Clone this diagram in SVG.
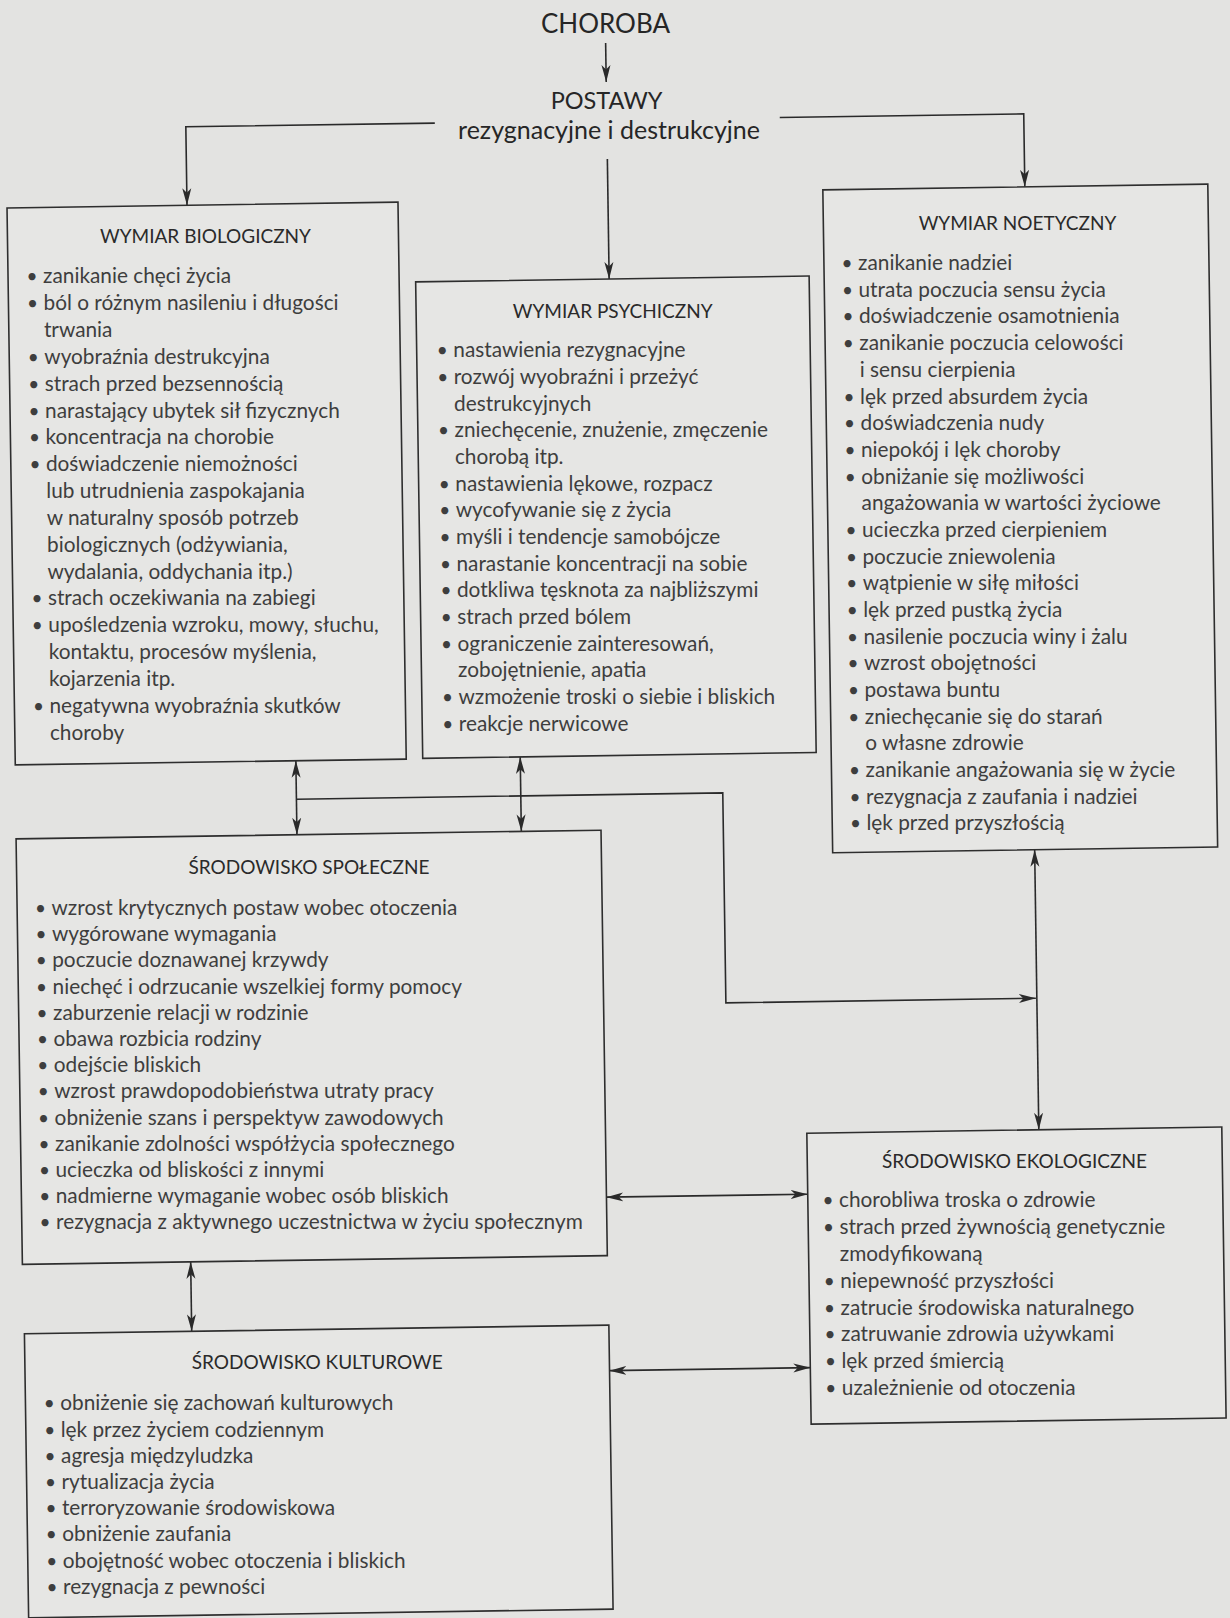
<svg xmlns="http://www.w3.org/2000/svg" width="1230" height="1618" viewBox="0 0 1230 1618">
<defs>
<style>
.bg{fill:#e3e3e1}
.box{fill:#e6e6e4;stroke:#2e2e2e;stroke-width:1.6}
.ln{fill:none;stroke:#2a2a2a;stroke-width:1.6}
text{font-family:Lato,'Liberation Sans',sans-serif}
.hd{fill:#262626;text-anchor:middle}
.tt{font-size:19px;fill:#2a2a2a;text-anchor:middle}
.it{font-size:20.8px;fill:#3e3e3e}
.bu{font-size:19px;fill:#3e3e3e;text-anchor:middle}
</style>
<marker id="ah" viewBox="0 0 17 10" refX="17" refY="5" markerWidth="17" markerHeight="10" markerUnits="userSpaceOnUse" orient="auto-start-reverse"><path d="M0,0.5 L17,5 L0,9.5 L4.5,5 Z" fill="#2a2a2a"/></marker>
</defs>
<rect class="bg" x="0" y="0" width="1230" height="1618"/>
<g id="header">
<text class="hd" x="605.5" y="33" font-size="26">CHOROBA</text>
<text class="hd" x="606.6" y="109" font-size="23.5">POSTAWY</text>
<text class="hd" x="609" y="139" font-size="25">rezygnacyjne i destrukcyjne</text>
</g>
<g id="connectors" transform="rotate(-0.85 615 809)">
<path class="ln" d="M617,43 V82" marker-end="url(#ah)"/>
<path class="ln" d="M617,159 V279" marker-end="url(#ah)"/>
<path class="ln" d="M445,120.5 H196 V199" marker-end="url(#ah)"/>
<path class="ln" d="M790,120 H1034 V193" marker-end="url(#ah)"/>
<path class="ln" d="M296.6,756 V830" marker-start="url(#ah)" marker-end="url(#ah)"/>
<path class="ln" d="M521,755.5 V830" marker-start="url(#ah)" marker-end="url(#ah)"/>
<path class="ln" d="M296.6,794.5 H723 V1004.5 H1033" marker-end="url(#ah)"/>
<path class="ln" d="M1034,856 V1136" marker-start="url(#ah)" marker-end="url(#ah)"/>
<path class="ln" d="M600.5,1197 H802" marker-start="url(#ah)" marker-end="url(#ah)"/>
<path class="ln" d="M601,1370.5 H802" marker-start="url(#ah)" marker-end="url(#ah)"/>
<path class="ln" d="M184,1255.5 V1325" marker-start="url(#ah)" marker-end="url(#ah)"/>
</g>
<g id="wymiar-biologiczny">
<rect class="box" x="16" y="199" width="391" height="557" transform="rotate(-0.85 615 809)"/>
<text class="tt" x="205.5" y="243">WYMIAR BIOLOGICZNY</text>
<text class="bu"><tspan x="32.1" y="283.4">•</tspan><tspan x="32.5" y="310.2">•</tspan><tspan x="33.3" y="363.9">•</tspan><tspan x="33.7" y="390.7">•</tspan><tspan x="34.1" y="417.6">•</tspan><tspan x="34.5" y="444.4">•</tspan><tspan x="34.9" y="471.2">•</tspan><tspan x="36.9" y="605.4">•</tspan><tspan x="37.3" y="632.2">•</tspan><tspan x="38.5" y="712.7">•</tspan></text>
<text class="it">
<tspan x="43.1" y="283.4">zanikanie chęci życia</tspan>
<tspan x="43.5" y="310.2">ból o różnym nasileniu i długości</tspan>
<tspan x="43.9" y="337.1">trwania</tspan>
<tspan x="44.3" y="363.9">wyobraźnia destrukcyjna</tspan>
<tspan x="44.7" y="390.7">strach przed bezsennością</tspan>
<tspan x="45.1" y="417.6">narastający ubytek sił fizycznych</tspan>
<tspan x="45.5" y="444.4">koncentracja na chorobie</tspan>
<tspan x="45.9" y="471.2">doświadczenie niemożności</tspan>
<tspan x="46.3" y="498">lub utrudnienia zaspokajania</tspan>
<tspan x="46.7" y="524.9">w naturalny sposób potrzeb</tspan>
<tspan x="47.1" y="551.7">biologicznych (odżywiania,</tspan>
<tspan x="47.5" y="578.5">wydalania, oddychania itp.)</tspan>
<tspan x="47.9" y="605.4">strach oczekiwania na zabiegi</tspan>
<tspan x="48.3" y="632.2">upośledzenia wzroku, mowy, słuchu,</tspan>
<tspan x="48.7" y="659">kontaktu, procesów myślenia,</tspan>
<tspan x="49.1" y="685.8">kojarzenia itp.</tspan>
<tspan x="49.5" y="712.7">negatywna wyobraźnia skutków</tspan>
<tspan x="49.9" y="739.5">choroby</tspan>
</text>
</g>
<g id="wymiar-psychiczny">
<rect class="box" x="423.5" y="279" width="393.5" height="476.5" transform="rotate(-0.85 615 809)"/>
<text class="tt" x="612.7" y="317.9">WYMIAR PSYCHICZNY</text>
<text class="bu"><tspan x="442.3" y="357.4">•</tspan><tspan x="442.7" y="384.1">•</tspan><tspan x="443.5" y="437.4">•</tspan><tspan x="444.3" y="490.7">•</tspan><tspan x="444.7" y="517.3">•</tspan><tspan x="445.1" y="544">•</tspan><tspan x="445.5" y="570.6">•</tspan><tspan x="445.9" y="597.3">•</tspan><tspan x="446.2" y="623.9">•</tspan><tspan x="446.6" y="650.6">•</tspan><tspan x="447.4" y="703.9">•</tspan><tspan x="447.8" y="730.5">•</tspan></text>
<text class="it">
<tspan x="453.3" y="357.4">nastawienia rezygnacyjne</tspan>
<tspan x="453.7" y="384.1">rozwój wyobraźni i przeżyć</tspan>
<tspan x="454.1" y="410.7">destrukcyjnych</tspan>
<tspan x="454.5" y="437.4">zniechęcenie, znużenie, zmęczenie</tspan>
<tspan x="454.9" y="464">chorobą itp.</tspan>
<tspan x="455.3" y="490.7">nastawienia lękowe, rozpacz</tspan>
<tspan x="455.7" y="517.3">wycofywanie się z życia</tspan>
<tspan x="456.1" y="544">myśli i tendencje samobójcze</tspan>
<tspan x="456.5" y="570.6">narastanie koncentracji na sobie</tspan>
<tspan x="456.9" y="597.3">dotkliwa tęsknota za najbliższymi</tspan>
<tspan x="457.2" y="623.9">strach przed bólem</tspan>
<tspan x="457.6" y="650.6">ograniczenie zainteresowań,</tspan>
<tspan x="458" y="677.2">zobojętnienie, apatia</tspan>
<tspan x="458.4" y="703.9">wzmożenie troski o siebie i bliskich</tspan>
<tspan x="458.8" y="730.5">reakcje nerwicowe</tspan>
</text>
</g>
<g id="wymiar-noetyczny">
<rect class="box" x="832" y="193" width="385" height="663" transform="rotate(-0.85 615 809)"/>
<text class="tt" x="1017.5" y="229.9">WYMIAR NOETYCZNY</text>
<text class="bu"><tspan x="847.1" y="270.1">•</tspan><tspan x="847.5" y="296.8">•</tspan><tspan x="847.9" y="323.4">•</tspan><tspan x="848.3" y="350.1">•</tspan><tspan x="849.1" y="403.5">•</tspan><tspan x="849.5" y="430.1">•</tspan><tspan x="849.9" y="456.8">•</tspan><tspan x="850.3" y="483.5">•</tspan><tspan x="851" y="536.8">•</tspan><tspan x="851.4" y="563.5">•</tspan><tspan x="851.8" y="590.1">•</tspan><tspan x="852.2" y="616.8">•</tspan><tspan x="852.6" y="643.5">•</tspan><tspan x="853" y="670.2">•</tspan><tspan x="853.4" y="696.8">•</tspan><tspan x="853.8" y="723.5">•</tspan><tspan x="854.6" y="776.8">•</tspan><tspan x="855" y="803.5">•</tspan><tspan x="855.4" y="830.2">•</tspan></text>
<text class="it">
<tspan x="858.1" y="270.1">zanikanie nadziei</tspan>
<tspan x="858.5" y="296.8">utrata poczucia sensu życia</tspan>
<tspan x="858.9" y="323.4">doświadczenie osamotnienia</tspan>
<tspan x="859.3" y="350.1">zanikanie poczucia celowości</tspan>
<tspan x="859.7" y="376.8">i sensu cierpienia</tspan>
<tspan x="860.1" y="403.5">lęk przed absurdem życia</tspan>
<tspan x="860.5" y="430.1">doświadczenia nudy</tspan>
<tspan x="860.9" y="456.8">niepokój i lęk choroby</tspan>
<tspan x="861.3" y="483.5">obniżanie się możliwości</tspan>
<tspan x="861.6" y="510.1">angażowania w wartości życiowe</tspan>
<tspan x="862" y="536.8">ucieczka przed cierpieniem</tspan>
<tspan x="862.4" y="563.5">poczucie zniewolenia</tspan>
<tspan x="862.8" y="590.1">wątpienie w siłę miłości</tspan>
<tspan x="863.2" y="616.8">lęk przed pustką życia</tspan>
<tspan x="863.6" y="643.5">nasilenie poczucia winy i żalu</tspan>
<tspan x="864" y="670.2">wzrost obojętności</tspan>
<tspan x="864.4" y="696.8">postawa buntu</tspan>
<tspan x="864.8" y="723.5">zniechęcanie się do starań</tspan>
<tspan x="865.2" y="750.2">o własne zdrowie</tspan>
<tspan x="865.6" y="776.8">zanikanie angażowania się w życie</tspan>
<tspan x="866" y="803.5">rezygnacja z zaufania i nadziei</tspan>
<tspan x="866.4" y="830.2">lęk przed przyszłością</tspan>
</text>
</g>
<g id="srodowisko-spoleczne">
<rect class="box" x="15.7" y="830" width="585" height="425.5" transform="rotate(-0.85 615 809)"/>
<text class="tt" x="308.9" y="873.6">ŚRODOWISKO SPOŁECZNE</text>
<text class="bu"><tspan x="40.5" y="914.9">•</tspan><tspan x="40.9" y="941.1">•</tspan><tspan x="41.2" y="967.3">•</tspan><tspan x="41.6" y="993.5">•</tspan><tspan x="42" y="1019.7">•</tspan><tspan x="42.4" y="1045.9">•</tspan><tspan x="42.8" y="1072.1">•</tspan><tspan x="43.2" y="1098.3">•</tspan><tspan x="43.6" y="1124.5">•</tspan><tspan x="44" y="1150.7">•</tspan><tspan x="44.4" y="1176.9">•</tspan><tspan x="44.7" y="1203.1">•</tspan><tspan x="45.1" y="1229.3">•</tspan></text>
<text class="it">
<tspan x="51.5" y="914.9">wzrost krytycznych postaw wobec otoczenia</tspan>
<tspan x="51.9" y="941.1">wygórowane wymagania</tspan>
<tspan x="52.2" y="967.3">poczucie doznawanej krzywdy</tspan>
<tspan x="52.6" y="993.5">niechęć i odrzucanie wszelkiej formy pomocy</tspan>
<tspan x="53" y="1019.7">zaburzenie relacji w rodzinie</tspan>
<tspan x="53.4" y="1045.9">obawa rozbicia rodziny</tspan>
<tspan x="53.8" y="1072.1">odejście bliskich</tspan>
<tspan x="54.2" y="1098.3">wzrost prawdopodobieństwa utraty pracy</tspan>
<tspan x="54.6" y="1124.5">obniżenie szans i perspektyw zawodowych</tspan>
<tspan x="55" y="1150.7">zanikanie zdolności współżycia społecznego</tspan>
<tspan x="55.4" y="1176.9">ucieczka od bliskości z innymi</tspan>
<tspan x="55.7" y="1203.1">nadmierne wymaganie wobec osób bliskich</tspan>
<tspan x="56.1" y="1229.3">rezygnacja z aktywnego uczestnictwa w życiu społecznym</tspan>
</text>
</g>
<g id="srodowisko-ekologiczne">
<rect class="box" x="802" y="1136" width="415" height="291" transform="rotate(-0.85 615 809)"/>
<text class="tt" x="1014.4" y="1168.2">ŚRODOWISKO EKOLOGICZNE</text>
<text class="bu"><tspan x="828" y="1206.9">•</tspan><tspan x="828.4" y="1233.8">•</tspan><tspan x="829.2" y="1287.6">•</tspan><tspan x="829.6" y="1314.5">•</tspan><tspan x="830" y="1341.4">•</tspan><tspan x="830.4" y="1368.3">•</tspan><tspan x="830.8" y="1395.2">•</tspan></text>
<text class="it">
<tspan x="839" y="1206.9">chorobliwa troska o zdrowie</tspan>
<tspan x="839.4" y="1233.8">strach przed żywnością genetycznie</tspan>
<tspan x="839.8" y="1260.7">zmodyfikowaną</tspan>
<tspan x="840.2" y="1287.6">niepewność przyszłości</tspan>
<tspan x="840.6" y="1314.5">zatrucie środowiska naturalnego</tspan>
<tspan x="841" y="1341.4">zatruwanie zdrowia używkami</tspan>
<tspan x="841.4" y="1368.3">lęk przed śmiercią</tspan>
<tspan x="841.8" y="1395.2">uzależnienie od otoczenia</tspan>
</text>
</g>
<g id="srodowisko-kulturowe">
<rect class="box" x="16.7" y="1325" width="584.5" height="284" transform="rotate(-0.85 615 809)"/>
<text class="tt" x="317.2" y="1368.5">ŚRODOWISKO KULTUROWE</text>
<text class="bu"><tspan x="49.3" y="1410.4">•</tspan><tspan x="49.7" y="1436.6">•</tspan><tspan x="50.1" y="1462.8">•</tspan><tspan x="50.5" y="1489">•</tspan><tspan x="50.9" y="1515.2">•</tspan><tspan x="51.3" y="1541.4">•</tspan><tspan x="51.7" y="1567.6">•</tspan><tspan x="52" y="1593.8">•</tspan></text>
<text class="it">
<tspan x="60.3" y="1410.4">obniżenie się zachowań kulturowych</tspan>
<tspan x="60.7" y="1436.6">lęk przez życiem codziennym</tspan>
<tspan x="61.1" y="1462.8">agresja międzyludzka</tspan>
<tspan x="61.5" y="1489">rytualizacja życia</tspan>
<tspan x="61.9" y="1515.2">terroryzowanie środowiskowa</tspan>
<tspan x="62.3" y="1541.4">obniżenie zaufania</tspan>
<tspan x="62.7" y="1567.6">obojętność wobec otoczenia i bliskich</tspan>
<tspan x="63" y="1593.8">rezygnacja z pewności</tspan>
</text>
</g>
</svg>
